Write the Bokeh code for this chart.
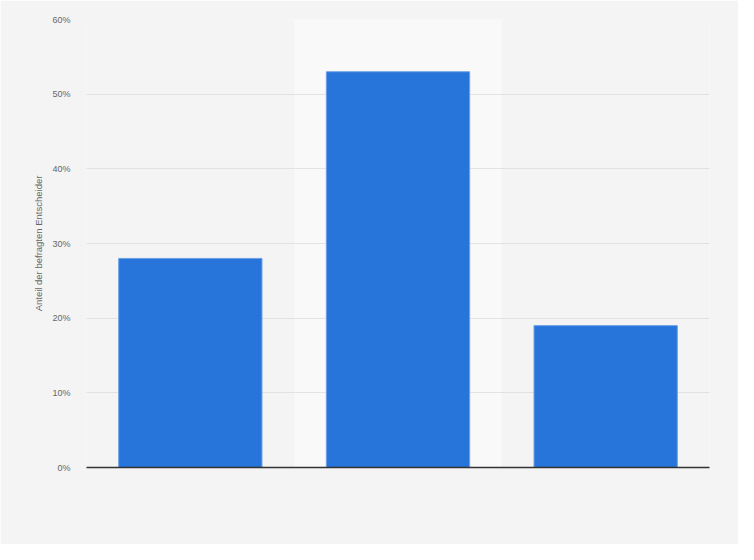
from bokeh.plotting import figure
from bokeh.models import BoxAnnotation, PrintfTickFormatter, FixedTicker, Range1d
from bokeh.embed import file_html
from bokeh.resources import INLINE

# Data
positions = [0, 1, 2]
shares = [28, 53, 19]
y_ticks = [0, 10, 20, 30, 40, 50, 60]
y_label = "Anteil der befragten Entscheider"

BG = "#f4f4f4"

p = figure(width=738, height=544, output_backend="svg", toolbar_location=None,
           x_range=Range1d(-0.5, 2.5), y_range=Range1d(0, 60))
p.min_border_left = 86
p.min_border_right = 29
p.min_border_top = 19
p.min_border_bottom = 77
p.background_fill_color = BG
p.border_fill_color = BG
p.outline_line_color = None

band = BoxAnnotation(left=0.5, right=1.5, bottom=0, top=60, fill_color="#f9f9f9",
                     fill_alpha=1, line_color=None, level="image")
p.add_layout(band)

p.vbar(x=positions, top=shares, width=0.69, bottom=0,
       fill_color="#2775db", line_color="#6a9fe6", line_width=1)

# y axis
p.yaxis.ticker = FixedTicker(ticks=y_ticks)
p.yaxis.formatter = PrintfTickFormatter(format="%d%%")
p.yaxis.axis_line_color = None
p.yaxis.major_tick_line_color = None
p.yaxis.minor_tick_line_color = None
p.yaxis.major_label_text_font = "Arial"
p.yaxis.major_label_text_font_size = "9px"
p.yaxis.major_label_text_color = "#666666"
p.yaxis.major_label_standoff = 10
p.yaxis.axis_label = y_label
p.yaxis.axis_label_text_font = "Arial"
p.yaxis.axis_label_text_font_size = "9.5px"
p.yaxis.axis_label_text_font_style = "normal"
p.yaxis.axis_label_text_color = "#666666"
p.yaxis.axis_label_standoff = 5

# x axis
p.xaxis.ticker = FixedTicker(ticks=[])
p.xaxis.major_label_text_font_size = "0px"
p.xaxis.major_tick_line_color = None
p.xaxis.minor_tick_line_color = None
p.xaxis.axis_line_color = "#333333"
p.xaxis.axis_line_width = 1.3

p.xgrid.grid_line_color = None
p.ygrid.ticker = FixedTicker(ticks=y_ticks)
p.ygrid.grid_line_color = "#cfcfcf"
p.ygrid.grid_line_dash = "1 1"
p.ygrid.grid_line_width = 1

open("out.html", "w").write(file_html(p, INLINE))
